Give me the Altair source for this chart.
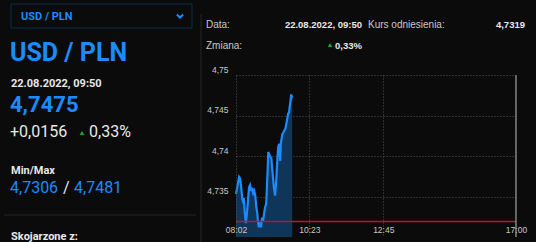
import altair as alt
import pandas as pd

# ---- data ----
times = ["08:02", "08:04", "08:08", "08:10", "08:12", "08:14", "08:15", "08:17", "08:19", "08:21",
         "08:23", "08:25", "08:27", "08:29", "08:31", "08:33", "08:35", "08:37", "08:39", "08:41",
         "08:43", "08:44", "08:46", "08:48", "08:50", "08:52", "08:54", "08:56", "08:58", "09:00",
         "09:02", "09:04", "09:06", "09:08", "09:10", "09:11", "09:13", "09:15", "09:17", "09:19",
         "09:21", "09:23", "09:25", "09:27", "09:28", "09:31", "09:33", "09:37", "09:40", "09:42",
         "09:44", "09:45", "09:47", "09:48", "09:49", "09:50"]
rates = [4.7353, 4.7360, 4.7374, 4.7372, 4.7361, 4.7348, 4.7345, 4.7348, 4.7329, 4.7317,
         4.7329, 4.7345, 4.7361, 4.7364, 4.7357, 4.7361, 4.7354, 4.7357, 4.7351, 4.7337,
         4.7329, 4.7320, 4.7312, 4.7320, 4.7312, 4.7324, 4.7320, 4.7329, 4.7337, 4.7341,
         4.7370, 4.7405, 4.7402, 4.7399, 4.7397, 4.7388, 4.7374, 4.7360, 4.7351, 4.7366,
         4.7390, 4.7411, 4.7415, 4.7394, 4.7415, 4.7427, 4.7429, 4.7434, 4.7444, 4.7452,
         4.7454, 4.7460, 4.7469, 4.7476, 4.7473, 4.7475]
reference_rate = 4.7319
x_ticks = ["08:02", "10:23", "12:45", "17:00"]
y_ticks = [4.735, 4.74, 4.745, 4.75]
y_domain = [4.73, 4.75]


def to_min(t):
    h, m = t.split(":")
    return int(h) * 60 + int(m)


df = pd.DataFrame({"t": [to_min(t) for t in times], "v": rates})
x_vals = [to_min(t) for t in x_ticks]
x_domain = [x_vals[0], x_vals[-1]]

# layout helpers (plot origin at page pixel 236, 75)
OX, OY = 236, 75
def px(x):
    return x - OX
def py(y):
    return y - OY

BG = "#0b0b0b"
BLUE = "#1a8cff"
WHITE = "#e8e8e8"
GREY = "#c8c8c8"
FONT = "Roboto"
FONT2 = "Liberation Sans"

xs = alt.Scale(domain=x_domain, nice=False, zero=False)
ys = alt.Scale(domain=y_domain, nice=False, zero=False)

x_axis = alt.Axis(values=x_vals, title=None, grid=True, gridDash=[1, 2], gridColor="#555555",
                  gridWidth=1, domain=False, ticks=False, labelColor=GREY, labelFont=FONT2,
                  labelFontSize=8.5, labelBaseline="bottom", labelPadding=-3, labelFlush=False,
                  labelOverlap=False, zindex=2,
                  labelExpr="format(floor(datum.value/60),'02d') + ':' + format(datum.value%60,'02d')")
y_axis = alt.Axis(values=y_ticks, title=None, grid=True, gridDash=[1, 2], gridColor="#555555",
                  gridWidth=1, domain=False, ticks=False, labelColor=GREY, labelFont=FONT2,
                  labelFontSize=8.5, labelBaseline="bottom", labelPadding=8, labelOffset=-1,
                  labelFlush=False, labelOverlap=False,
                  labelExpr="replace(format(datum.value,'.3~f'), '.', ',')")

base = alt.Chart(df)

area = base.mark_area(color="#0f3558", opacity=1).encode(
    x=alt.X("t:Q", scale=xs, axis=x_axis),
    y=alt.Y("v:Q", scale=ys, axis=y_axis),
    y2=alt.datum(y_domain[0]),
)
line = base.mark_line(color=BLUE, strokeWidth=2.2).encode(
    x=alt.X("t:Q", scale=xs), y=alt.Y("v:Q", scale=ys))

ref = alt.Chart(pd.DataFrame({"v": [reference_rate]})).mark_rule(color="#c8102e", strokeWidth=1.5).encode(
    y=alt.Y("v:Q", scale=ys), x=alt.value(0), x2=alt.value(280))

endline = alt.Chart(pd.DataFrame({"t": [x_vals[-1]]})).mark_rule(color="#8a8a8a", strokeWidth=1.5).encode(
    x=alt.X("t:Q", scale=xs), y=alt.value(0), y2=alt.value(162))

# ---- page decorations ----
def rule(x1, y1, x2, y2, color, w=1):
    return alt.Chart(pd.DataFrame({"a": [0]})).mark_rule(color=color, strokeWidth=w).encode(
        x=alt.value(px(x1)), x2=alt.value(px(x2)), y=alt.value(py(y1)), y2=alt.value(py(y2)))

sep_v = rule(201, 14, 201, 242, "#262626")
sep_h = rule(4, 215, 196, 215, "#262626")

box = alt.Chart(pd.DataFrame({"a": [0]})).mark_rect(fill=BG, stroke="#0f2c48", strokeWidth=1).encode(
    x=alt.value(px(11)), x2=alt.value(px(192)), y=alt.value(py(4)), y2=alt.value(py(28)))

chevron = alt.Chart(pd.DataFrame({"a": [0]})).mark_point(
    shape="M-1,-0.5L0,0.5L1,-0.5", filled=False, color=BLUE, strokeWidth=2, size=40, opacity=1).encode(
    x=alt.value(px(180)), y=alt.value(py(16)))


def txt(s, x, y, size, color=WHITE, weight="normal", align="left", font=FONT):
    return alt.Chart(pd.DataFrame({"s": [s]})).mark_text(
        font=font, fontSize=size, fontWeight=weight, color=color, align=align, baseline="alphabetic").encode(
        x=alt.value(px(x)), y=alt.value(py(y)), text="s:N")


def tri(x, y, size=24):
    return alt.Chart(pd.DataFrame({"a": [0]})).mark_point(
        shape="triangle-up", filled=True, color="#1aa33a", size=size, opacity=1).encode(
        x=alt.value(px(x)), y=alt.value(py(y)))


texts = [
    txt("USD / PLN", 21, 20, 11, BLUE, "bold"),
    txt("USD / PLN", 10, 61, 25, BLUE, "bold"),
    txt("22.08.2022, 09:50", 11, 87, 11, WHITE, "bold"),
    txt("4,7475", 10, 112, 22, BLUE, "bold"),
    txt("+0,0156", 10, 137, 16, WHITE),
    tri(82, 133),
    txt("0,33%", 89, 137, 16, WHITE),
    txt("Min/Max", 11, 174, 11, WHITE, "bold"),
    txt("4,7306", 10, 193, 16, BLUE),
    txt("/", 63, 193, 16, WHITE),
    txt("4,7481", 74, 193, 16, BLUE),
    txt("Skojarzone z:", 11, 240, 11, WHITE, "bold"),
    txt("Data:", 206, 28, 10, GREY, font=FONT2),
    txt("22.08.2022, 09:50", 362, 28, 9.5, WHITE, "bold", "right", FONT2),
    txt("Kurs odniesienia:", 368, 28, 10, GREY, font=FONT2),
    txt("4,7319", 525, 28, 9.5, WHITE, "bold", "right", FONT2),
    txt("Zmiana:", 206, 49, 10, GREY, font=FONT2),
    tri(330, 45, 20),
    txt("0,33%", 362, 49, 9.5, WHITE, "bold", "right", FONT2),
]

chart = alt.layer(area, line, ref, endline, sep_v, sep_h, box, chevron, *texts).properties(
    width=280, height=162,
    padding={"left": 236, "top": 75, "right": 20, "bottom": 5},
    autosize="none",
    background=BG,
).configure_view(stroke=None, fill=BG)

chart.save("out.html", embed_options={"renderer": "svg", "actions": False})
